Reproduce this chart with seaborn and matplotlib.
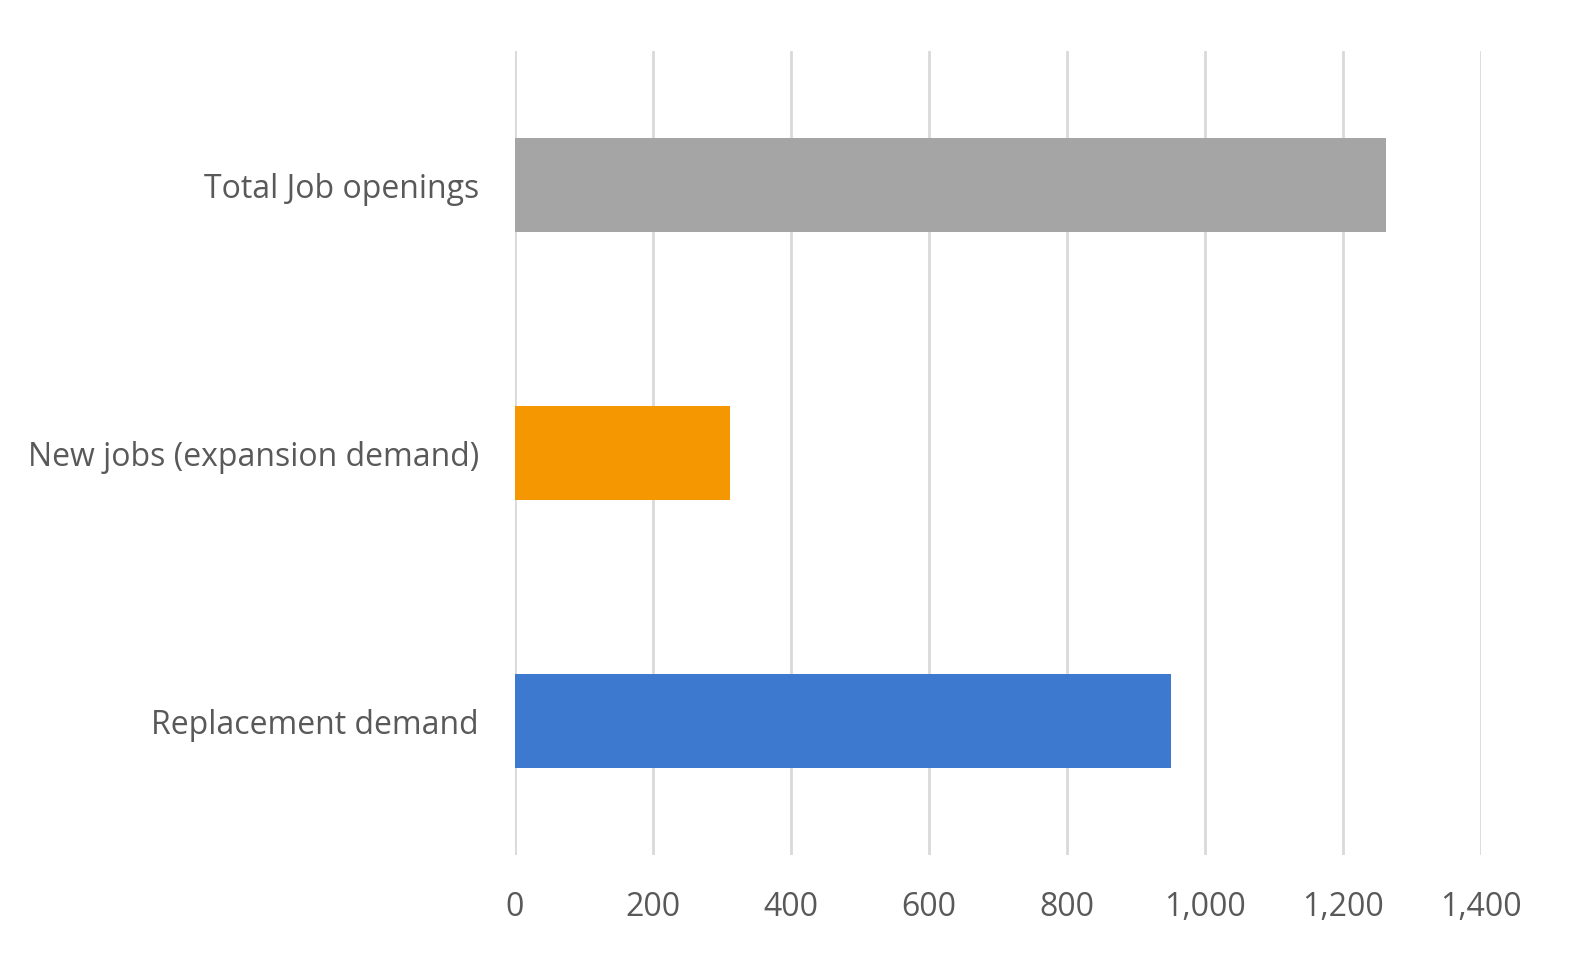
import matplotlib
matplotlib.use("Agg")
import matplotlib.pyplot as plt
import seaborn as sns
import pandas as pd
from matplotlib.ticker import FuncFormatter

categories = ["Total Job openings", "New jobs (expansion demand)", "Replacement demand"]
values = [1262, 311, 951]
colors = ["#A5A5A5", "#F59700", "#3C79CF"]
xticks = [0, 200, 400, 600, 800, 1000, 1200, 1400]

df = pd.DataFrame({"category": categories, "value": values})

sns.set_theme(style="white")
plt.rcParams["font.family"] = ["Open Sans", "DejaVu Sans"]

fig = plt.figure(figsize=(15.73, 9.56), dpi=100)
ax = fig.add_axes([515/1573, 1-855/956, (1481-515)/1573, (855-51)/956])

sns.barplot(data=df, x="value", y="category", hue="category", palette=colors,
            order=categories, hue_order=categories, width=0.35, legend=False,
            ax=ax, saturation=1, linewidth=0)

ax.set_xlim(0, 1400)
ax.set_ylim(2.5, -0.5)
ax.set_xticks(xticks)
ax.xaxis.set_major_formatter(FuncFormatter(lambda v, p: f"{int(v):,}"))
ax.grid(axis="x", color="#D9D9D9", linewidth=2)
ax.set_axisbelow(True)
for s in ax.spines.values():
    s.set_visible(False)
ax.tick_params(axis="both", length=0, labelsize=23, labelcolor="#595959")
ax.tick_params(axis="x", pad=26)
ax.tick_params(axis="y", pad=26)
ax.set_xlabel("")
ax.set_ylabel("")

fig.savefig("out.png", dpi=100, facecolor="white")
